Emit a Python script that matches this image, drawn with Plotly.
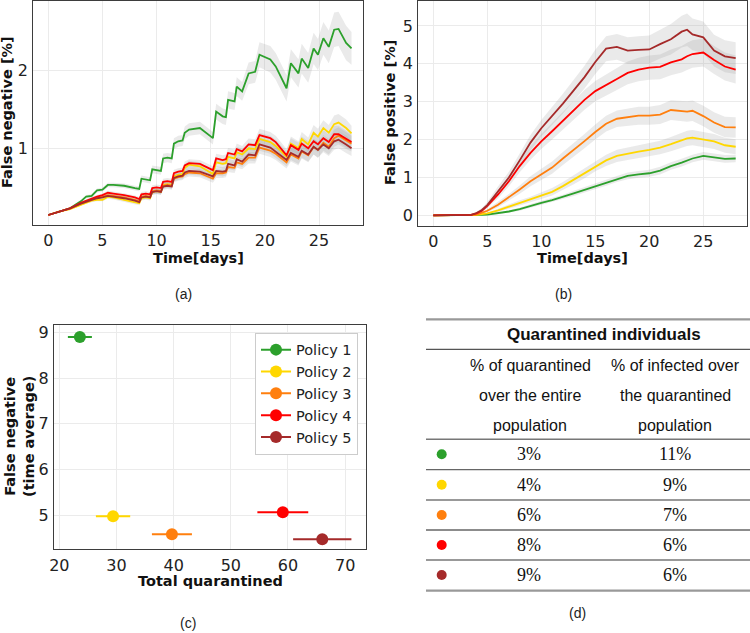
import plotly.graph_objects as go

W, H = 750, 633

policies = ["Policy 1", "Policy 2", "Policy 3", "Policy 4", "Policy 5"]
colors = ["#2ca02c", "#ffd700", "#ff7f0e", "#ff0000", "#a52a2a"]

# ---------------- panel (a): false negative [%] ----------------
t_a = [0, 1, 2, 3, 3.5, 4, 4.5, 5, 5.5, 6, 7, 8, 8.4, 8.6, 9, 9.4, 9.6, 10, 10.4, 10.6,
       11, 11.4, 11.6, 12, 12.4, 12.6, 13, 14, 15.2, 15.5, 16.1, 16.4, 16.6, 17.2, 17.4,
       17.9, 18.5, 19.1, 19.5, 20.5, 21, 22.0, 22.4, 23.1, 23.4, 24.0, 24.5, 24.9, 25.4,
       25.9, 26.4, 26.8, 27.5, 28]
fn_p1 = [0.145, 0.19, 0.23, 0.32, 0.38, 0.39, 0.46, 0.47, 0.53, 0.53, 0.52, 0.49, 0.48, 0.61,
         0.60, 0.59, 0.73, 0.72, 0.71, 0.87, 0.88, 0.87, 1.06, 1.09, 1.10, 1.20, 1.24, 1.26,
         1.13, 1.47, 1.41, 1.40, 1.62, 1.60, 1.79, 1.73, 1.96, 1.98, 2.20, 2.14, 2.05, 1.77,
         2.09, 1.96, 2.15, 2.03, 2.28, 2.20, 2.41, 2.30, 2.52, 2.53, 2.35, 2.28]
fn_p2 = [0.145, 0.19, 0.22, 0.28, 0.31, 0.33, 0.34, 0.34, 0.38, 0.37, 0.34, 0.31, 0.295, 0.36,
         0.37, 0.36, 0.44, 0.45, 0.44, 0.53, 0.54, 0.53, 0.64, 0.66, 0.67, 0.75, 0.79, 0.77,
         0.67, 0.82, 0.80, 0.81, 0.89, 0.87, 0.95, 0.92, 1.00, 0.99, 1.12, 1.08, 1.03, 0.89,
         1.06, 1.00, 1.12, 1.05, 1.20, 1.15, 1.26, 1.20, 1.31, 1.33, 1.26, 1.19]
fn_p3 = [0.145, 0.19, 0.23, 0.29, 0.32, 0.34, 0.36, 0.38, 0.40, 0.39, 0.37, 0.34, 0.32, 0.38,
         0.39, 0.38, 0.45, 0.46, 0.45, 0.52, 0.53, 0.52, 0.61, 0.63, 0.64, 0.67, 0.69, 0.68,
         0.61, 0.68, 0.68, 0.69, 0.76, 0.75, 0.82, 0.80, 0.88, 0.88, 1.01, 0.97, 0.93, 0.82,
         0.92, 0.87, 0.96, 0.91, 1.02, 0.98, 1.07, 1.02, 1.13, 1.16, 1.10, 1.06]
fn_p4 = [0.145, 0.19, 0.23, 0.30, 0.33, 0.36, 0.38, 0.40, 0.43, 0.42, 0.40, 0.37, 0.35, 0.41,
         0.42, 0.41, 0.49, 0.50, 0.49, 0.57, 0.58, 0.57, 0.68, 0.70, 0.71, 0.78, 0.81, 0.80,
         0.72, 0.87, 0.85, 0.86, 0.94, 0.92, 0.99, 0.96, 1.05, 1.04, 1.17, 1.13, 1.08, 0.91,
         1.04, 0.98, 1.06, 1.00, 1.09, 1.05, 1.13, 1.08, 1.18, 1.18, 1.12, 1.08]
fn_p5 = [0.145, 0.19, 0.23, 0.29, 0.32, 0.34, 0.36, 0.37, 0.39, 0.38, 0.36, 0.33, 0.31, 0.37,
         0.38, 0.37, 0.44, 0.45, 0.44, 0.51, 0.52, 0.51, 0.62, 0.64, 0.65, 0.69, 0.71, 0.70,
         0.64, 0.71, 0.70, 0.71, 0.80, 0.78, 0.86, 0.83, 0.92, 0.91, 1.05, 1.01, 0.96, 0.85,
         0.94, 0.89, 0.97, 0.92, 1.02, 0.98, 1.05, 1.00, 1.09, 1.11, 1.05, 1.00]
fn_band_p1 = [0.005, 0.01, 0.012, 0.015, 0.02, 0.02, 0.025, 0.025, 0.03, 0.03, 0.03, 0.03, 0.03,
              0.04, 0.04, 0.04, 0.05, 0.05, 0.05, 0.06, 0.06, 0.06, 0.07, 0.07, 0.07, 0.08,
              0.08, 0.08, 0.08, 0.10, 0.10, 0.10, 0.11, 0.11, 0.12, 0.12, 0.14, 0.14, 0.16,
              0.17, 0.17, 0.17, 0.18, 0.18, 0.19, 0.19, 0.20, 0.20, 0.21, 0.21, 0.22, 0.22,
              0.22, 0.21]
fn_band_rest = [0.005, 0.01, 0.012, 0.015, 0.018, 0.02, 0.02, 0.02, 0.025, 0.025, 0.025, 0.025,
                0.025, 0.03, 0.03, 0.03, 0.035, 0.035, 0.035, 0.04, 0.04, 0.04, 0.045, 0.045,
                0.045, 0.05, 0.05, 0.05, 0.05, 0.06, 0.06, 0.06, 0.065, 0.065, 0.07, 0.07,
                0.075, 0.075, 0.08, 0.08, 0.08, 0.08, 0.09, 0.09, 0.09, 0.09, 0.10, 0.10, 0.10,
                0.10, 0.11, 0.11, 0.11, 0.10]

# ---------------- panel (b): false positive [%] ----------------
t_b = [0, 1, 2, 3, 3.5, 4, 4.5, 5, 6, 7, 8, 9, 10, 11, 12, 13, 14, 15, 16, 17, 18, 19, 20,
       21, 22, 23, 23.5, 24, 25, 26, 27, 28]
fp_p1 = [0, 0, 0, 0, 0, 0, 0.01, 0.02, 0.05, 0.10, 0.16, 0.25, 0.33, 0.40, 0.48, 0.58, 0.67,
         0.76, 0.86, 0.96, 1.04, 1.08, 1.11, 1.18, 1.30, 1.39, 1.44, 1.50, 1.57, 1.53, 1.49, 1.50]
fp_p2 = [0, 0, 0, 0, 0, 0.01, 0.03, 0.05, 0.13, 0.23, 0.33, 0.41, 0.52, 0.62, 0.77, 0.94, 1.11,
         1.30, 1.45, 1.57, 1.63, 1.68, 1.73, 1.79, 1.88, 1.98, 2.03, 2.05, 2.00, 1.95, 1.85, 1.81]
fp_p3 = [0, 0, 0, 0, 0.01, 0.02, 0.06, 0.12, 0.28, 0.47, 0.68, 0.90, 1.08, 1.26, 1.50, 1.72,
         1.96, 2.20, 2.42, 2.55, 2.60, 2.63, 2.63, 2.66, 2.78, 2.76, 2.74, 2.76, 2.62, 2.45,
         2.33, 2.32]
fp_p4 = [0, 0, 0, 0, 0.01, 0.05, 0.12, 0.25, 0.55, 0.90, 1.30, 1.65, 1.95, 2.22, 2.50, 2.78,
         3.05, 3.28, 3.45, 3.60, 3.76, 3.85, 3.90, 3.92, 4.04, 4.12, 4.20, 4.26, 4.30, 4.10,
         3.93, 3.85]
fp_p5 = [0, 0, 0, 0, 0.01, 0.06, 0.14, 0.27, 0.65, 1.00, 1.45, 1.92, 2.30, 2.62, 2.95, 3.30,
         3.65, 4.05, 4.40, 4.45, 4.35, 4.37, 4.38, 4.52, 4.65, 4.85, 4.90, 4.78, 4.70, 4.35,
         4.20, 4.15]
fp_band_p1 = [0, 0, 0, 0, 0, 0, 0.0, 0.01, 0.02, 0.03, 0.04, 0.05, 0.05, 0.06, 0.06, 0.07, 0.07,
              0.08, 0.08, 0.08, 0.09, 0.09, 0.09, 0.1, 0.1, 0.1, 0.1, 0.1, 0.1, 0.1, 0.1, 0.1]
fp_band_p2 = [0, 0, 0, 0, 0, 0.0, 0.01, 0.02, 0.04, 0.06, 0.07, 0.08, 0.09, 0.1, 0.11, 0.12,
              0.13, 0.14, 0.15, 0.16, 0.17, 0.17, 0.18, 0.18, 0.19, 0.2, 0.2, 0.2, 0.2, 0.2,
              0.2, 0.2]
fp_band_p3 = [0, 0, 0, 0, 0.0, 0.01, 0.02, 0.04, 0.07, 0.09, 0.11, 0.13, 0.15, 0.16, 0.17, 0.18,
              0.19, 0.2, 0.21, 0.22, 0.23, 0.24, 0.24, 0.25, 0.26, 0.27, 0.27, 0.27, 0.27, 0.27,
              0.27, 0.27]
fp_band_p4 = [0, 0, 0, 0, 0.01, 0.02, 0.04, 0.06, 0.1, 0.13, 0.16, 0.18, 0.2, 0.22, 0.24, 0.25,
              0.26, 0.27, 0.28, 0.29, 0.3, 0.31, 0.32, 0.33, 0.34, 0.35, 0.36, 0.36, 0.37, 0.37,
              0.37, 0.37]
fp_band_p5 = [0, 0, 0, 0, 0.01, 0.03, 0.05, 0.08, 0.12, 0.15, 0.18, 0.2, 0.22, 0.24, 0.26, 0.28,
              0.3, 0.32, 0.33, 0.34, 0.35, 0.36, 0.37, 0.38, 0.4, 0.42, 0.43, 0.42, 0.42, 0.42,
              0.42, 0.42]

# ---------------- panel (c): trade-off ----------------
total_quarantined = [23.6, 29.4, 39.7, 59.1, 66.0]
total_quarantined_err = [2.1, 3.0, 3.5, 4.45, 5.1]
fn_time_average = [8.9, 4.98, 4.59, 5.07, 4.48]

# ---------------- panel (d): table ----------------
table_title = "Quarantined individuals"
col1_header = ["% of quarantined", "over the entire", "population"]
col2_header = ["% of infected over", "the quarantined", "population"]
col1_values = ["3%", "4%", "6%", "8%", "9%"]
col2_values = ["11%", "9%", "7%", "6%", "6%"]

fn_series = [fn_p1, fn_p2, fn_p3, fn_p4, fn_p5]
fn_bands = [fn_band_p1, fn_band_rest, fn_band_rest, fn_band_rest, fn_band_rest]
fp_series = [fp_p1, fp_p2, fp_p3, fp_p4, fp_p5]
fp_bands = [fp_band_p1, fp_band_p2, fp_band_p3, fp_band_p4, fp_band_p5]

BAND = "rgba(150,150,150,0.20)"
fig = go.Figure()


def add_band(t, vals, band, xa, ya):
    up = [v + b for v, b in zip(vals, band)]
    lo = [v - b for v, b in zip(vals, band)]
    fig.add_trace(go.Scatter(x=t, y=up, mode="lines", line=dict(width=0), showlegend=False,
                             hoverinfo="skip", xaxis=xa, yaxis=ya))
    fig.add_trace(go.Scatter(x=t, y=lo, mode="lines", line=dict(width=0), fill="tonexty",
                             fillcolor=BAND, showlegend=False, hoverinfo="skip",
                             xaxis=xa, yaxis=ya))


for vals, band in zip(fn_series, fn_bands):
    add_band(t_a, vals, band, "x", "y")
for vals, band in zip(fp_series, fp_bands):
    add_band(t_b, vals, band, "x2", "y2")
for vals, c, name in zip(fn_series, colors, policies):
    fig.add_trace(go.Scatter(x=t_a, y=vals, mode="lines", line=dict(color=c, width=1.8),
                             name=name, showlegend=False, xaxis="x", yaxis="y"))
for vals, c, name in zip(fp_series, colors, policies):
    fig.add_trace(go.Scatter(x=t_b, y=vals, mode="lines", line=dict(color=c, width=1.8),
                             name=name, showlegend=False, xaxis="x2", yaxis="y2"))

for i in range(5):
    fig.add_trace(go.Scatter(
        x=[total_quarantined[i]], y=[fn_time_average[i]], mode="lines+markers",
        name=policies[i], line=dict(color=colors[i], width=2),
        marker=dict(color=colors[i], size=12),
        error_x=dict(type="data", array=[total_quarantined_err[i]], color=colors[i],
                     thickness=2, width=0),
        xaxis="x3", yaxis="y3"))

# table dots
row_y = [454.3, 484.7, 515.0, 545.0, 575.0]
fig.add_trace(go.Scatter(x=[441.7] * 5, y=row_y, mode="markers",
                         marker=dict(color=colors, size=10), showlegend=False,
                         hoverinfo="skip", xaxis="x4", yaxis="y4"))

tickfont = dict(family="DejaVu Sans", size=16, color="#222")
base = dict(showline=True, linecolor="#3d3d3d", linewidth=1.3, mirror=True, showgrid=True,
            gridcolor="#ebebeb", gridwidth=1, zeroline=False, ticks="outside", ticklen=1,
            tickcolor="rgba(0,0,0,0)", tickfont=tickfont, automargin=False)


def px_x(p):
    return p / W


def px_y(p):
    return 1 - p / H


layout = dict(
    width=W, height=H, margin=dict(l=0, r=0, t=0, b=0),
    paper_bgcolor="white", plot_bgcolor="white",
    xaxis=dict(base, domain=[px_x(33.3), px_x(363)], range=[-1.385, 29.06],
               tickvals=[0, 5, 10, 15, 20, 25], anchor="y"),
    yaxis=dict(base, domain=[px_y(225), px_y(1)], range=[0.017, 2.888], tickvals=[1, 2],
               anchor="x"),
    xaxis2=dict(base, domain=[px_x(418.3), px_x(746.7)], range=[-1.39, 29.02],
                tickvals=[0, 5, 10, 15, 20, 25], anchor="y2"),
    yaxis2=dict(base, domain=[px_y(226), px_y(1)], range=[-0.283, 5.66],
                tickvals=[0, 1, 2, 3, 4, 5], anchor="x2"),
    xaxis3=dict(base, domain=[px_x(54), px_x(365.7)], range=[19.07, 73.6],
                tickvals=[20, 30, 40, 50, 60, 70], anchor="y3"),
    yaxis3=dict(base, domain=[px_y(549.3), px_y(325)], range=[4.26, 9.16],
                tickvals=[5, 6, 7, 8, 9], anchor="x3"),
    xaxis4=dict(domain=[px_x(426), 1], range=[426, 750], visible=False, anchor="y4",
                fixedrange=True),
    yaxis4=dict(domain=[0, px_y(310)], range=[633, 310], visible=False, anchor="x4",
                fixedrange=True),
    legend=dict(x=px_x(358), y=px_y(332.7), xanchor="right", yanchor="top",
                traceorder="normal", bgcolor="white", bordercolor="#cccccc", borderwidth=1,
                font=dict(family="DejaVu Sans", size=14.5, color="#222")),
    showlegend=True,
)
fig.update_layout(**layout)

ann = []
tfont = dict(family="DejaVu Sans", size=14.5, color="#111")


def title_ann(text, x, y, angle=0):
    ann.append(dict(text="<b>" + text + "</b>", x=px_x(x), y=px_y(y), xref="paper",
                    yref="paper", showarrow=False, textangle=angle, font=tfont,
                    xanchor="center", yanchor="middle"))


title_ann("Time[days]", 198, 258)
title_ann("False negative [%]", 7, 112, -90)
title_ann("Time[days]", 582, 258)
title_ann("False positive [%]", 390, 113, -90)
title_ann("Total quarantined", 210, 581)
title_ann("False negative<br>(time average)", 19, 437, -90)

lfont = dict(family="Liberation Sans", size=14, color="#222")
for txt, x, y in [("(a)", 183, 294), ("(b)", 563, 294), ("(c)", 188, 623), ("(d)", 577, 613)]:
    ann.append(dict(text=txt, x=px_x(x), y=px_y(y), xref="paper", yref="paper",
                    showarrow=False, font=lfont, xanchor="center", yanchor="middle"))

# table text
ann.append(dict(text="<b>" + table_title + "</b>", x=604, y=334, xref="x4", yref="y4",
                showarrow=False, font=dict(family="Liberation Sans", size=17, color="#111"),
                xanchor="center", yanchor="middle"))
hfont = dict(family="Liberation Sans", size=16, color="#111")
for i, yy in enumerate([365, 395, 425]):
    ann.append(dict(text=col1_header[i], x=530, y=yy, xref="x4", yref="y4", showarrow=False,
                    font=hfont, xanchor="center", yanchor="middle"))
    ann.append(dict(text=col2_header[i], x=675, y=yy, xref="x4", yref="y4", showarrow=False,
                    font=hfont, xanchor="center", yanchor="middle"))
vfont = dict(family="Liberation Serif", size=18, color="#111")
for i, yy in enumerate(row_y):
    ann.append(dict(text=col1_values[i], x=529, y=yy, xref="x4", yref="y4", showarrow=False,
                    font=vfont, xanchor="center", yanchor="middle"))
    ann.append(dict(text=col2_values[i], x=675, y=yy, xref="x4", yref="y4", showarrow=False,
                    font=vfont, xanchor="center", yanchor="middle"))

shapes = []
for yy, col, w in [(319.3, "#999999", 2.2), (349.3, "#555555", 1.2), (439.3, "#777777", 1.4),
                   (469.7, "#666666", 1.3), (500, "#777777", 1.4), (530, "#666666", 1.3),
                   (560, "#777777", 1.4), (590.7, "#999999", 2.2)]:
    shapes.append(dict(type="line", x0=426, x1=750, y0=yy, y1=yy, xref="x4", yref="y4",
                       line=dict(color=col, width=w)))

fig.update_layout(annotations=ann, shapes=shapes)
fig.write_html("out.html", config={"displayModeBar": False},
               post_script="document.body.style.margin='0';"
                           "document.body.style.overflow='hidden';")
